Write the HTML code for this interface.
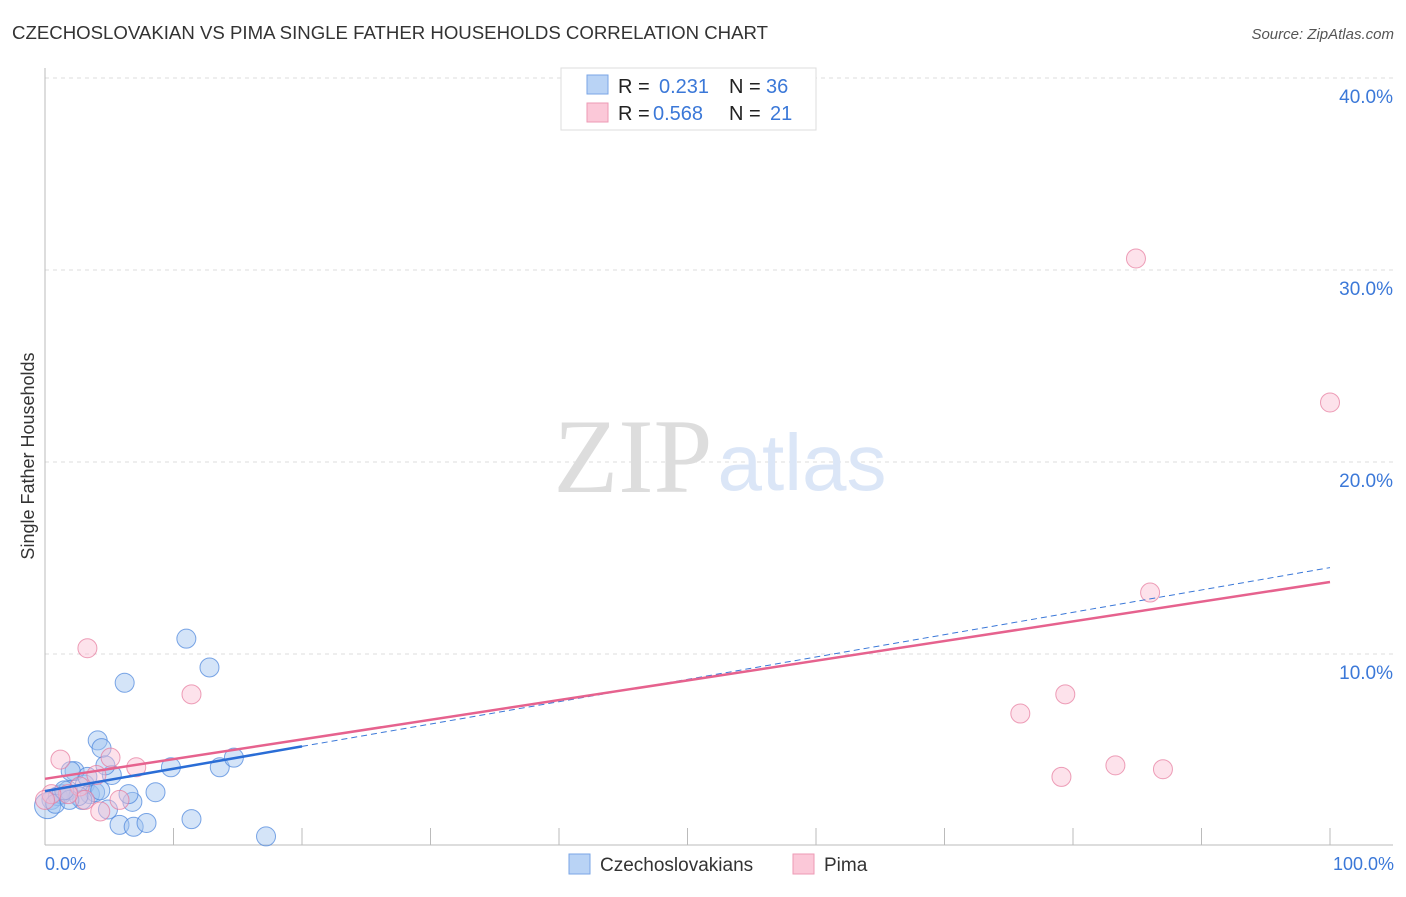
<!DOCTYPE html>
<html><head><meta charset="utf-8">
<style>
body{margin:0;background:#fff;font-family:"Liberation Sans",sans-serif;}
svg text{font-family:"Liberation Sans",sans-serif;}
</style></head>
<body>
<svg id="chart" width="1406" height="892">
<text x="12" y="39" font-size="18" fill="#333" textLength="756" lengthAdjust="spacingAndGlyphs">CZECHOSLOVAKIAN VS PIMA SINGLE FATHER HOUSEHOLDS CORRELATION CHART</text>
<text x="1394" y="39" font-size="15" fill="#555" font-style="italic" text-anchor="end">Source: ZipAtlas.com</text>
<g id="grid"></g>
<text x="633" y="492" font-size="106" fill="#ddd" text-anchor="middle" style="font-family:'Liberation Serif',serif">ZIP</text>
<text x="802" y="490" font-size="80" fill="#dbe6f7" text-anchor="middle">atlas</text>
<g id="marks"></g>
<text x="34" y="456" font-size="18" fill="#333" text-anchor="middle" transform="rotate(-90 34 456)">Single Father Households</text>
<text x="45" y="870" font-size="18" fill="#3b78d8">0.0%</text>
<text x="1394" y="870" font-size="18" fill="#3b78d8" text-anchor="end">100.0%</text>
<g>
<rect x="561" y="68" width="255" height="62" fill="#fff" stroke="#ddd"/>
<rect x="587" y="75" width="21" height="19" fill="#b9d3f5" stroke="#7aa6e6"/>
<rect x="587" y="103" width="21" height="19" fill="#fbc8d8" stroke="#ee9ab5"/>
<text x="618" y="93" font-size="20" fill="#222">R = </text><text x="659" y="93" font-size="20" fill="#3b78d8">0.231</text>
<text x="729" y="93" font-size="20" fill="#222">N = </text><text x="766" y="93" font-size="20" fill="#3b78d8">36</text>
<text x="618" y="120" font-size="20" fill="#222">R = </text><text x="653" y="120" font-size="20" fill="#3b78d8">0.568</text>
<text x="729" y="120" font-size="20" fill="#222">N = </text><text x="770" y="120" font-size="20" fill="#3b78d8">21</text>
</g>
<g>
<rect x="569" y="854" width="21" height="20" fill="#b9d3f5" stroke="#7aa6e6"/>
<text x="600" y="871" font-size="19" fill="#333">Czechoslovakians</text>
<rect x="793" y="854" width="21" height="20" fill="#fbc8d8" stroke="#ee9ab5"/>
<text x="824" y="871" font-size="19" fill="#333">Pima</text>
</g>
</svg>
<script>
const yTicks=[10,20,30,40];
const yTickLabels=["10.0%","20.0%","30.0%","40.0%"];
const xTicks=[10,20,30,40,50,60,70,80,90,100];
const czX=[11.0,12.8,6.2,4.1,4.4,5.2,4.7,2.3,9.8,13.6,14.7,8.6,6.8,6.5,4.9,5.8,6.9,7.9,11.4,17.2,0.5,1.0,1.3,1.8,3.1,3.5,3.9,2.9,2.6,0.2,0.8,1.9,4.3,1.5,3.3,2.0];
const czY=[10.8,9.3,8.5,5.5,5.1,3.7,4.2,3.9,4.1,4.1,4.6,2.8,2.3,2.7,1.9,1.1,1.0,1.2,1.4,0.5,2.4,2.6,2.7,2.9,3.2,2.7,2.8,2.4,2.6,2.1,2.2,2.4,2.9,2.9,3.6,3.9];
const piX=[84.9,100,86.0,79.4,75.9,79.1,83.3,87.0,3.3,11.4,1.2,5.1,7.1,4.0,2.7,4.3,5.8,3.1,1.8,0.5,0];
const piY=[30.6,23.1,13.2,7.9,6.9,3.6,4.2,4.0,10.3,7.9,4.5,4.6,4.1,3.7,3.1,1.8,2.4,2.4,2.7,2.7,2.4];
const czTrend=[2.86,14.5];
const piTrend=[3.5,13.75];
const NS="http://www.w3.org/2000/svg";
const X=v=>45+v*12.85, Y=v=>846-v*19.2;
const grid=document.getElementById('grid'), marks=document.getElementById('marks');
function mk(tag,attrs,parent){const e=document.createElementNS(NS,tag);for(const k in attrs)e.setAttribute(k,attrs[k]);parent.appendChild(e);return e;}
yTicks.forEach((t,i)=>{
  const l=mk('line',{x1:45,x2:1393,y1:Y(t),y2:Y(t),stroke:'#ddd','stroke-dasharray':'4,4'},grid);
  
  
  const tx=mk('text',{x:1393,y:Y(t)+25,'font-size':19,fill:'#3b78d8','text-anchor':'end'},grid);
  tx.textContent=yTickLabels[i];
  
  
});
const ax=mk('line',{x1:45,x2:45,y1:68,y2:845,stroke:'#bbb'},grid);


const bx=mk('line',{x1:45,x2:1393,y1:845,y2:845,stroke:'#bbb'},grid);


xTicks.forEach(t=>{
  const l=mk('line',{x1:X(t),x2:X(t),y1:828,y2:845,stroke:'#bbb'},grid);
  
  
});
czX.forEach((x,i)=>{
  const c=mk('circle',{cx:X(x),cy:Y(czY[i]),r:i==29?13:9.5,fill:'rgba(160,195,240,0.45)',stroke:'rgba(70,130,220,0.7)','stroke-width':1},marks);
  
  
});
piX.forEach((x,i)=>{
  const c=mk('circle',{cx:X(x),cy:Y(piY[i]),r:9.5,fill:'rgba(250,190,210,0.45)',stroke:'rgba(230,120,155,0.7)','stroke-width':1},marks);
  
  
});
const czAt=x=>czTrend[0]+(czTrend[1]-czTrend[0])*x/100;
const d=mk('line',{x1:X(20),y1:Y(czAt(20)),x2:X(100),y2:Y(czAt(100)),stroke:'#3b78d8','stroke-width':1,'stroke-dasharray':'6,4'},marks);


const s=mk('line',{x1:X(0),y1:Y(czAt(0)),x2:X(20),y2:Y(czAt(20)),stroke:'#2a6dd6','stroke-width':2.5},marks);


const p=mk('line',{x1:X(0),y1:Y(piTrend[0]),x2:X(100),y2:Y(piTrend[1]),stroke:'#e6628e','stroke-width':2.5},marks);


</script>
</body></html>
